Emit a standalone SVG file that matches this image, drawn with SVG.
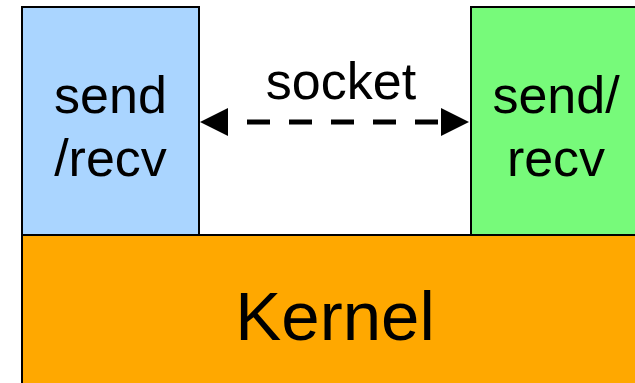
<svg xmlns="http://www.w3.org/2000/svg" width="635" height="383" viewBox="0 0 635 383">
  <style>
    .box { stroke: #000; stroke-width: 2; }
    .label { font-family: "Liberation Sans", Arial, sans-serif; fill: #000; text-anchor: middle; }
    .link { stroke: #000; stroke-width: 5; stroke-dasharray: 23 19; fill: none; }
    .head { fill: #000; }
  </style>
  <rect width="635" height="383" fill="#fff"/>

  <g id="left-app">
    <rect class="box" x="22" y="7" width="177" height="228" fill="#aad5ff"/>
    <text class="label" x="110.5" y="113" font-size="52">send</text>
    <text class="label" x="110.5" y="176" font-size="52">/recv</text>
  </g>

  <g id="right-app">
    <rect class="box" x="471" y="7" width="170" height="228" fill="#77fa7a"/>
    <text class="label" x="556" y="113" font-size="52">send/</text>
    <text class="label" x="556" y="176" font-size="52">recv</text>
  </g>

  <g id="kernel">
    <rect class="box" x="22" y="235" width="620" height="160" fill="#ffa800"/>
    <text class="label" x="335" y="340" font-size="69">Kernel</text>
  </g>

  <g id="connectors">
    <!-- two-way socket link: dashed shaft with a solid head at each end -->
    <line class="link" x1="247" y1="122" x2="438" y2="122"/>
    <path class="head" d="M200,122 L228,108 L228,136 Z"/>
    <path class="head" d="M469,122 L441,108 L441,136 Z"/>
    <text class="label" x="341" y="99" font-size="52">socket</text>
  </g>
</svg>
